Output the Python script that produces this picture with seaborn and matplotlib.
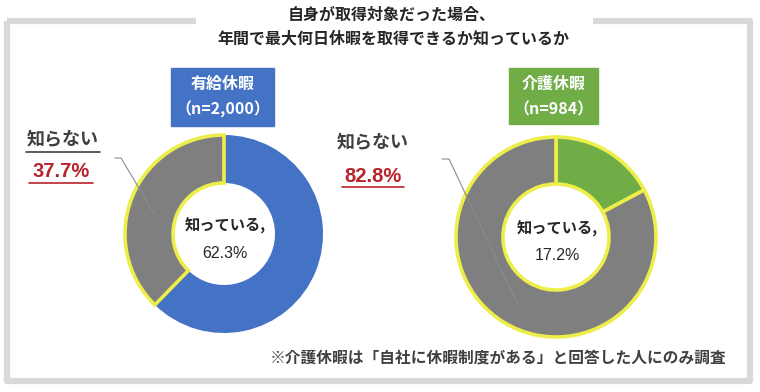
import matplotlib
matplotlib.use("Agg")
import matplotlib.pyplot as plt
import seaborn as sns

sns.set_theme(style="white")
plt.rcParams['font.family'] = ['Noto Sans CJK JP', 'DejaVu Sans']

# ---- data ----
title_lines = ["自身が取得対象だった場合、", "年間で最大何日休暇を取得できるか知っているか"]
categories = ["知っている", "知らない"]
paid_values = [62.3, 37.7]
care_values = [17.2, 82.8]
panel_titles = ["有給休暇", "介護休暇"]
sample_sizes = ["2,000", "984"]
footnote = "※介護休暇は「自社に休暇制度がある」と回答した人にのみ調査"

BLUE = "#4472C4"
GREEN = "#70AD47"
GRAY = "#7F7F7F"
RED = "#B8242B"
YELLOW = "#EEEE4A"
FRAME = "#D9D9D9"
TXT = "#262626"
NUMFONT = ['Liberation Sans', 'Noto Sans CJK JP']

W, H = 760, 392
fig = plt.figure(figsize=(W / 100, H / 100), dpi=100)
ax = fig.add_axes([0, 0, 1, 1])


def Y(py):
    return H - py


# ---- frame with gap for title ----
fl = dict(color=FRAME, lw=4.5, solid_capstyle="butt", zorder=0)
ax.plot([7, 7, 750, 750, 593], [Y(21), Y(381), Y(381), Y(21), Y(21)], **fl)
ax.plot([7, 196], [Y(21), Y(21)], **fl)

# ---- title ----
ax.text(392, Y(15), title_lines[0], ha="center", va="center", fontsize=11.5,
        fontweight="bold", color=TXT)
ax.text(393, Y(38), title_lines[1], ha="center", va="center", fontsize=11.5,
        fontweight="bold", color=TXT)

# ---- donuts ----
panels = [
    dict(vals=paid_values, color=BLUE, cx=224, cy=234, R=99, r=51,
         edges=[False, True], box=(171, 68, 103, 58)),
    dict(vals=care_values, color=GREEN, cx=556, cy=237, R=100, r=53,
         edges=[True, True], box=(509, 68, 89, 56)),
]

for i, p in enumerate(panels):
    wedges, _ = ax.pie(p["vals"], colors=[p["color"], GRAY], startangle=90,
                       counterclock=False, radius=p["R"],
                       center=(p["cx"], Y(p["cy"])),
                       wedgeprops=dict(width=p["R"] - p["r"], linewidth=0))
    for w, e in zip(wedges, p["edges"]):
        if e:
            w.set_edgecolor(YELLOW)
            w.set_linewidth(2.6)
            w.set_joinstyle("miter")
    # center label
    ax.text(p["cx"] + 1, Y(p["cy"] - 8), categories[0] + ",", ha="center",
            va="center", fontsize=11, fontweight="bold", color=TXT)
    ax.text(p["cx"] + 1, Y(p["cy"] + 19), f"{p['vals'][0]:.1f}%", ha="center",
            va="center", fontsize=11.5, color=TXT, family=NUMFONT)
    # header box
    bx, by, bw, bh = p["box"]
    ax.add_patch(plt.Rectangle((bx, Y(by + bh)), bw, bh, color=p["color"],
                               zorder=3))
    ax.text(bx + bw / 2, Y(by + 16), panel_titles[i], ha="center", va="center",
            fontsize=11.5, fontweight="bold", color="white", zorder=4)
    ax.text(bx + bw / 2, Y(by + 41), f"（n={sample_sizes[i]}）", ha="center",
            va="center", fontsize=11.5, fontweight="bold", color="white",
            zorder=4)

# ---- outside labels ----
# left
ax.text(63, Y(140), categories[1], ha="center", va="center", fontsize=13,
        fontweight="bold", color="#404040")
ax.plot([26, 100], [Y(152), Y(152)], color="#404040", lw=1.2)
ax.text(61, Y(171), f"{paid_values[1]:.1f}%", ha="center", va="center",
        fontsize=14.5, fontweight="bold", color=RED, family=NUMFONT)
ax.plot([29, 93], [Y(183), Y(183)], color=RED, lw=1.2)
ax.plot([115, 121, 155], [Y(158), Y(158), Y(215)], color="#8C8C8C", lw=0.8)

# right
ax.text(373, Y(143), categories[1], ha="center", va="center", fontsize=13,
        fontweight="bold", color="#404040")
ax.text(373, Y(176), f"{care_values[1]:.1f}%", ha="center", va="center",
        fontsize=14.5, fontweight="bold", color=RED, family=NUMFONT)
ax.plot([342, 404], [Y(187), Y(187)], color=RED, lw=1.2)
ax.plot([442, 449, 517], [Y(159), Y(159), Y(303)], color="#8C8C8C", lw=0.8)

# ---- footnote ----
ax.text(726, Y(358), footnote, ha="right", va="center", fontsize=11.3,
        fontweight="bold", color="#404040")

ax.set_xlim(0, W)
ax.set_ylim(0, H)
ax.set_aspect("auto")
ax.axis("off")

fig.savefig("out.png", dpi=100, facecolor="white")
